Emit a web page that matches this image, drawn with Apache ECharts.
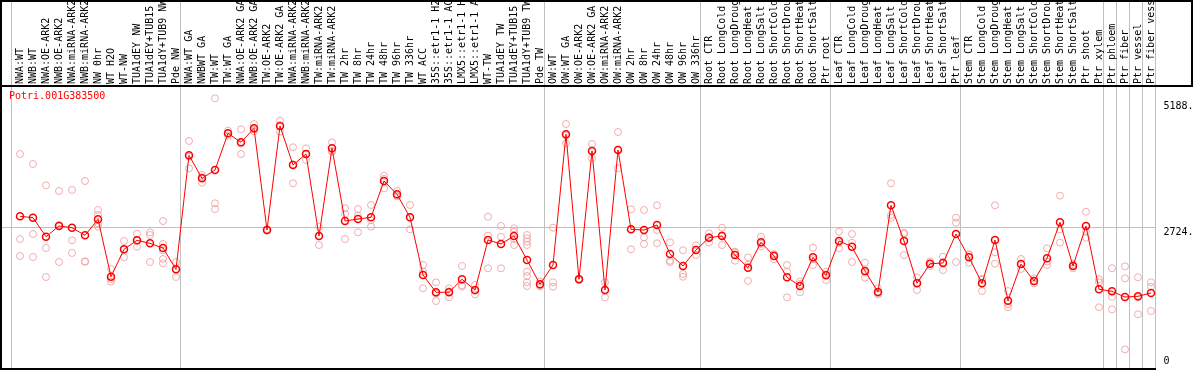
<!DOCTYPE html>
<html><head><meta charset="utf-8">
<script src="https://cdn.jsdelivr.net/npm/echarts@6/dist/echarts.min.js"></script>
<style>html,body{margin:0;padding:0;background:#fff}#c{width:1194px;height:370px}</style>
</head><body><div id="c"></div>
<script>
const categories = [
  'NWA:WT','NWB:WT','NWA:OE-ARK2','NWB:OE-ARK2','NWA:miRNA-ARK2','NWB:miRNA-ARK2','NW 0hr','WT H2O','WT-NW',
  'TUA1dEY NW','TUA1dEY+TUB15 NW','TUA1dY+TUB9 NW','Pde NW',
  'NWA:WT GA','NWBWT GA','TW:WT','TW:WT GA','NWA:OE-ARK2 GA','NWB:OE-ARK2 GA','TW:OE-ARK2','TW:OE-ARK2 GA',
  'NWA:miRNA-ARK2','NWB:miRNA-ARK2','TW:miRNA-ARK2','TW:miRNA-ARK2','TW 2hr','TW 8hr','TW 24hr','TW 48hr','TW 96hr','TW 336hr',
  'WT ACC','35S::etr1-1 H2O','35S::etr1-1 ACC','LMX5::etr1-1 H2O','LMX5::etr1-1 ACC','WT-TW','TUA1dEY TW','TUA1dEY+TUB15 TW','TUA1dY+TUB9 TW','Pde TW',
  'OW:WT','OW:WT GA','OW:OE-ARK2','OW:OE-ARK2 GA','OW:miRNA-ARK2','OW:miRNA-ARK2','OW 2hr','OW 8hr','OW 24hr','OW 48hr','OW 96hr','OW 336hr',
  'Root CTR','Root LongCold','Root LongDrought','Root LongHeat','Root LongSalt','Root ShortCold','Root ShortDrought','Root ShortHeat','Root ShortSalt','Ptr root',
  'Leaf CTR','Leaf LongCold','Leaf LongDrought','Leaf LongHeat','Leaf LongSalt','Leaf ShortCold','Leaf ShortDrought','Leaf ShortHeat','Leaf ShortSalt','Ptr leaf',
  'Stem CTR','Stem LongCold','Stem LongDrought','Stem LongHeat','Stem LongSalt','Stem ShortCold','Stem ShortDrought','Stem ShortHeat','Stem ShortSalt','Ptr shoot',
  'Ptr xylem','Ptr phloem','Ptr fiber','Ptr vessel','Ptr fiber vessel'
];
const means = [
  2956,2928,2541,2759,2724,2569,2895,1728,2285,2468,2406,2311,1878,
  4196,3728,3897,4643,4460,4745,2677,4792,3999,4222,2556,4338,2860,2901,2935,3674,3403,2935,
  1763,1411,1411,1675,1458,2474,2393,2556,2068,1573,
  1966,4623,1675,4283,1458,4304,2691,2677,2779,2190,1946,2271,
  2521,2556,2169,1911,2427,2149,1716,1539,2122,1756,
  2454,2338,1844,1417,3180,2454,1594,1992,2007,2596,
  2122,1594,2474,1240,1986,1641,2102,2834,1946,2759,
  1472,1431,1315,1330,1397
];
const replicates = [
  [4222,2494,2149],[4019,2596,2129],[3586,2311,1722],[3470,2780,2027],[3491,2468,2210],[3674,2041,2030],
  [3084,2982,2813,2745],[1885,1680,1627],[2454,2280,2122],[2602,2465,2338],[2630,2575,2027],[2860,2393,2260,2088,2000],[2027,1880,1722],
  [4487,4170,3931],[3796,3750,3639],[5355,3220,3104],[4696,4640,4595],[4725,4433,4222],[4832,4720,4683],[2690,2670,2670],[4900,4800,4676],
  [4359,4010,3627],[4338,4227,4101],[2745,2550,2372],[4460,4285,4269],[3118,3003,2494],[3104,2969,2630],[3186,2875,2745],[3781,3716,3525],[3470,3380,3360],[3186,2928,2691],
  [1966,1830,1492],[1614,1385,1234],[1492,1432,1309],[1946,1555,1525],[1559,1445,1370],[2948,2562,1899],[2759,2541,1899],[2712,2643,2497,2372],
  [2576,2508,2440,2372,1830,1742,1614,1539],[1627,1559,1535],
  [2724,1614,1525],[4832,4597,4440],[1690,1675,1660],[4426,4290,4135],[1614,1450,1309],[4670,4310,3931],[3098,2690,2285],[3084,2529,2393],[3180,2677,2407],[2427,2053,2027],[2265,1783,1728],[2366,2278,2169],
  [2610,2530,2423],[2724,2572,2372],[2236,2218,2053],[2122,1970,1641],[2541,2395,2345],[2183,2183,2081],[1966,1830,1309],[1627,1580,1411],[2318,2082,1966],[1830,1777,1661],
  [2643,2415,2304],[2596,2420,2027],[2013,1811,1708],[1492,1383,1376],[3627,2982,2928],[2623,2596,2169],[1716,1608,1458],[2040,1990,1946],[2135,2022,1864],[2928,2826,2027],
  [2184,2169,2013],[1684,1661,1437],[3180,2224,1993],[1437,1173,1106],[2088,1985,1885],[1694,1635,1594],[2304,2036,1966],[3375,2691,2420],[1986,1953,1899],[3050,2643,2521],
  [1675,1614,1106],[1899,1321,1065],[1939,1694,252],[1716,1310,964],[1614,1525,1031]
];
const yTickValues = [0, 2724, 5188];
const yTickLabels = ['0', '2724.', '5188.'];
const gridValue = 2724;
const geneName = 'Potri.001G383500';
const groupEnds = [-1, 12, 40, 52, 62, 72, 83, 84, 85, 86, 87];

const repPoints = [];
replicates.forEach((arr, i) => arr.forEach(v => repPoints.push([i, v])));

const FONT = 'DejaVu Sans Mono';
const chart = echarts.init(document.getElementById('c'), null, {renderer: 'canvas'});
chart.setOption({
  animation: false,
  backgroundColor: '#ffffff',
  title: {text: geneName, left: 9, top: 91, padding: 0,
    textStyle: {color: '#ff0000', fontSize: 10, fontFamily: FONT, fontWeight: 'normal'}},
  grid: {left: 13.5, width: 1144, top: 86, bottom: 1.5, containLabel: false, outerBoundsMode: 'none'},
  xAxis: {type: 'category', data: categories, position: 'top', boundaryGap: true,
    axisLine: {show: false}, axisTick: {show: false}, splitLine: {show: false},
    axisLabel: {interval: 0, rotate: 90, margin: 2, fontSize: 10, fontFamily: FONT, color: '#000'}},
  yAxis: {type: 'value', position: 'right', min: -138, max: 5605,
    axisLine: {show: false}, axisTick: {show: false}, splitLine: {show: false},
    axisLabel: {customValues: yTickValues, margin: 6, fontSize: 10, fontFamily: FONT, color: '#000',
      formatter: function (v) {
        const k = yTickValues.indexOf(v);
        const t = k >= 0 ? yTickLabels[k] : '';
        return v === gridValue ? '{d|' + t + '}' : t;
      },
      rich: {d: {padding: [10, 0, 0, 0], fontSize: 10, fontFamily: FONT, color: '#000'}}}},
  series: [
    {type: 'scatter', data: repPoints, symbol: 'circle', symbolSize: 7, silent: true, z: 2,
      itemStyle: {color: 'rgba(255,255,255,0)', borderColor: '#ee9a9a', borderWidth: 1}},
    {type: 'line', data: means, symbol: 'circle', symbolSize: 7, showAllSymbol: true, silent: true, z: 3,
      lineStyle: {color: '#ff0000', width: 1},
      itemStyle: {color: 'rgba(255,255,255,0)', borderColor: '#ff0000', borderWidth: 1.5}}
  ]
});

const xp = i => chart.convertToPixel({xAxisIndex: 0}, i);
const step = xp(1) - xp(0);
const yGrid = Math.floor(chart.convertToPixel({yAxisIndex: 0}, gridValue)) + 0.5;
const graphics = [];
groupEnds.forEach(k => {
  const x = Math.floor(xp(0) + (k + 0.33) * step) + 0.5;
  graphics.push({type: 'line', silent: true, z: 0, shape: {x1: x, y1: 0, x2: x, y2: 368},
    style: {stroke: '#c0c0c0', lineWidth: 1}});
});
graphics.push({type: 'line', silent: true, z: 0, shape: {x1: 0, y1: yGrid, x2: 1155, y2: yGrid},
  style: {stroke: '#c0c0c0', lineWidth: 1}});
const black = {stroke: '#000', lineWidth: 2};
graphics.push({type: 'line', silent: true, z: 100, shape: {x1: 0, y1: 86, x2: 1193, y2: 86}, style: black});
graphics.push({type: 'line', silent: true, z: 100, shape: {x1: 0, y1: 1, x2: 1193, y2: 1}, style: black});
graphics.push({type: 'line', silent: true, z: 100, shape: {x1: 1192, y1: 0, x2: 1192, y2: 86}, style: black});
graphics.push({type: 'line', silent: true, z: 100, shape: {x1: 1, y1: 0, x2: 1, y2: 370}, style: black});
graphics.push({type: 'line', silent: true, z: 100, shape: {x1: 0, y1: 369, x2: 1156, y2: 369}, style: black});
chart.setOption({graphic: graphics});
</script>
</body></html>
